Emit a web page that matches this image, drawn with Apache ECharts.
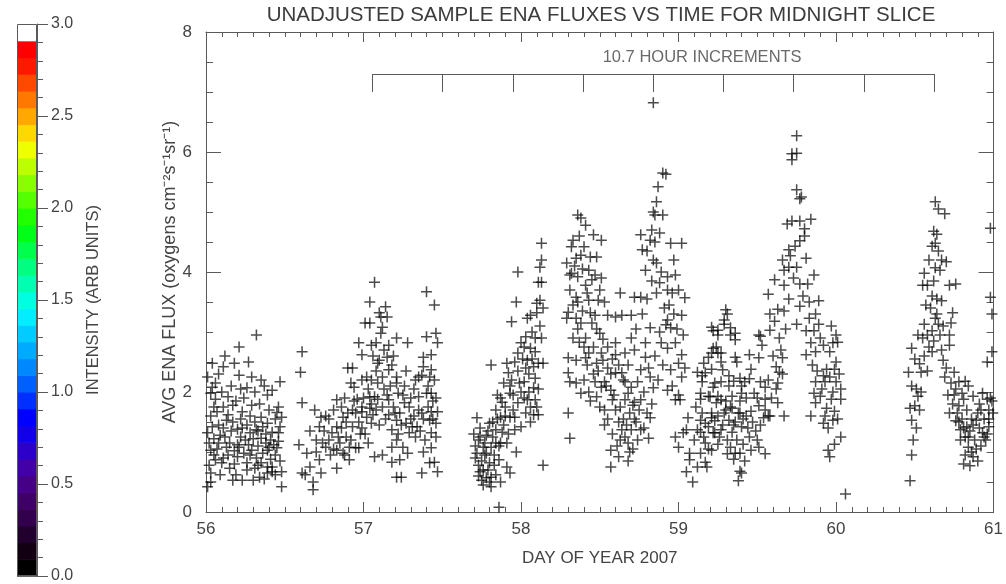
<!DOCTYPE html>
<html>
<head>
<meta charset="utf-8">
<script src="https://cdn.jsdelivr.net/npm/echarts/dist/echarts.min.js"></script>
<style>
  html, body { margin: 0; padding: 0; background: #ffffff; }
  #chart { width: 1006px; height: 584px; }
</style>
</head>
<body>
<div id="chart"></div>
<script>
// Average ENA flux samples [day of year 2007, flux], grouped by observation pass
const pass1 = [
  [56.04,2.48],[56.11,2.42],[56.18,2.48],[56.27,2.5],[56.21,2.75],[56.32,2.95],[56.21,2.28],[56.04,2.08],
  [56.03,1.98],[56.35,2.2],[56.42,2.03],[56.47,2.17],[56.26,2.07],[56.31,2.0],[56.39,1.95],[56.46,1.75],
  [56.48,1.58],[56.45,1.66],[56.11,1.75],[56.07,1.67],[56.17,1.78],[56.23,1.67],[56.35,1.58],[56.39,1.48],
  [56.13,1.53],[56.04,1.42],[56.01,1.32],[56.09,1.28],[56.15,1.15],[56.20,1.12],[56.25,1.2],[56.29,1.03],
  [56.32,0.9],[56.35,0.82],[56.39,0.75],[56.42,0.67],[56.48,0.67],[56.03,1.03],[56.06,0.87],[56.10,0.82],
  [56.03,0.65],[56.03,0.5],[56.01,0.42],[56.17,0.53],[56.23,0.53],[56.30,0.53],[56.15,0.73],[56.48,0.42],
  [56.46,1.32],[56.47,1.42],[56.42,1.33],[56.40,1.08],[56.45,1.07],[56.32,1.37],[56.28,1.32],[56.23,1.4],
  [56.35,1.23],[56.08,1.15],[56.13,1.08],[56.20,0.92],[56.26,0.82],[56.39,1.03],[56.31,0.73],[56.34,0.58],
  [56.39,0.65],[56.42,0.75],[56.02,1.15],[56.05,1.22],[56.07,1.05],[56.12,1.25],[56.14,0.95],[56.16,1.35],
  [56.18,1.02],[56.22,1.25],[56.24,0.98],[56.27,1.12],[56.30,1.22],[56.33,1.1],[56.36,0.98],[56.38,1.15],
  [56.41,0.88],[56.44,0.95],[56.47,0.85],[56.02,0.78],[56.09,0.62],[56.19,0.62],[56.26,0.7],[56.37,0.55],
  [56.01,2.25],[56.06,1.88],[56.10,2.0],[56.14,1.92],[56.19,1.85],[56.24,1.9],[56.29,1.78],[56.34,1.8],
  [56.40,1.7],[56.44,1.55],[56.16,2.1],[56.08,2.3],[56.12,2.6],
  [56.03,1.6],[56.05,1.75],[56.08,1.45],[56.11,1.4],[56.14,1.62],[56.17,1.5],[56.20,1.38],[56.22,1.55],
  [56.26,1.45],[56.28,1.6],[56.31,1.5],[56.33,1.35],[56.36,1.42],[56.38,1.3],[56.41,1.2],[56.43,1.12],
  [56.46,1.18],[56.05,0.95],[56.11,0.9],[56.18,0.8],[56.21,1.08],[56.28,0.95],[56.33,0.78],[56.44,0.62],
  [56.06,2.15],[56.22,2.05],[56.29,2.25],[56.37,2.1]
];
const pass2 = [
  [56.61,2.67],[56.60,2.33],[56.61,1.82],[56.59,1.12],[56.61,0.65],[56.63,0.62],[56.68,0.5],[56.68,0.37],
  [56.66,0.75],[56.64,0.98],[56.69,1.7],[56.73,1.58],[56.73,0.65],[56.72,0.87],[56.70,1.2],[56.74,1.15],
  [56.76,1.08],[56.78,1.2],[56.80,1.32],[56.83,1.42],[56.83,1.87],[56.88,1.9],[56.87,1.58],[56.86,1.4],
  [56.83,1.03],[56.87,0.98],[56.83,0.73],[56.91,0.87],[56.95,1.07],[56.91,1.08],[56.89,1.25],[56.93,1.42],
  [56.90,1.65],[56.93,1.7],[56.95,1.65],[56.99,1.67],[56.90,2.4],[56.93,2.4],[56.94,2.08],[56.92,2.15],
  [56.97,2.82],[56.99,2.62],[57.01,3.15],[57.04,3.15],[57.04,3.5],[57.07,3.83],[57.05,2.78],[57.08,2.82],
  [56.99,2.2],[57.02,2.25],[57.05,2.2],[57.09,2.48],[57.10,2.53],[57.11,3.25],[57.10,3.32],[57.14,3.42],
  [57.15,3.25],[57.12,3.08],[57.11,2.98],[57.16,2.78],[57.21,2.9],[57.28,2.82],[57.15,2.58],[57.16,2.37],
  [57.21,2.25],[57.21,2.15],[57.09,2.15],[57.04,1.92],[57.07,1.92],[56.99,1.75],[57.04,1.73],[57.08,1.7],
  [57.12,1.75],[57.05,1.48],[57.02,1.58],[56.99,1.4],[56.97,1.07],[57.07,0.92],[57.12,0.95],[57.16,1.87],
  [57.16,1.62],[57.21,1.53],[57.18,1.37],[57.21,1.2],[57.18,1.08],[57.25,1.08],[57.28,0.98],[57.23,0.87],
  [57.18,0.83],[57.21,0.58],[57.24,0.58],[57.23,1.65],[57.26,1.82],[57.29,1.75],[57.27,1.48],[57.31,1.42],
  [57.29,1.32],[57.34,1.42],[57.33,1.25],[57.37,0.65],[57.42,0.82],[57.38,1.0],[57.43,1.07],[57.45,0.83],
  [57.47,0.67],[57.43,1.32],[57.46,1.48],[57.42,1.53],[57.37,1.65],[57.43,1.67],[57.47,1.67],[57.35,1.92],
  [57.40,1.98],[57.43,1.98],[57.46,1.9],[57.35,2.25],[57.37,2.28],[57.42,2.25],[57.45,2.2],[57.38,2.42],
  [57.43,2.37],[57.38,2.58],[57.43,2.62],[57.40,2.92],[57.46,2.98],[57.47,2.82],[57.40,3.67],[57.45,3.45],
  [57.00,1.9],[57.03,2.05],[57.06,1.62],[57.09,1.88],[57.13,2.05],[57.14,1.55],[57.17,2.1],[57.19,1.75],
  [57.22,1.98],[57.24,1.45],[57.26,2.1],[57.30,1.9],[57.32,1.6],[57.33,2.2],[57.36,1.35],[57.39,1.2],
  [57.41,1.75],[57.44,1.85],[56.96,1.88],[56.98,1.3],[56.85,1.15],[56.78,1.55],[56.75,1.35],[56.81,1.05],
  [56.70,1.0],[56.66,1.35],[56.88,0.95],
  [56.72,1.42],[56.76,1.6],[56.79,0.95],[56.81,1.7],[56.84,1.25],[56.86,1.75],[56.89,1.5],[56.92,1.2],
  [56.94,1.85],[56.97,1.5],[57.01,1.3],[57.03,1.15],[57.05,1.8],[57.08,2.35],[57.10,1.45],[57.12,2.25],
  [57.15,1.95],[57.18,2.45],[57.20,1.65],[57.22,1.3],[57.25,1.95],[57.27,2.35],[57.30,1.55],[57.32,2.05],
  [57.35,1.7],[57.38,1.55],[57.41,2.1],[57.44,1.55],[57.46,1.25],[57.06,2.6],[57.13,2.7],[57.19,2.6]
];
const pass3 = [
  [57.72,1.57],[57.73,1.2],[57.72,0.98],[57.73,0.78],[57.74,0.67],[57.75,0.53],[57.76,0.45],[57.78,0.57],
  [57.81,0.42],[57.81,0.58],[57.80,0.82],[57.78,0.98],[57.76,1.08],[57.81,1.08],[57.78,1.28],[57.84,1.37],
  [57.80,1.48],[57.87,1.58],[57.84,1.7],[57.88,1.83],[57.85,1.95],[57.89,2.15],[57.81,2.45],[57.91,2.48],
  [57.92,2.32],[57.93,1.98],[57.95,1.95],[57.93,1.58],[57.96,1.58],[57.96,1.37],[57.88,1.33],[57.87,1.15],
  [57.91,1.15],[57.97,1.0],[57.91,0.75],[57.93,0.65],[57.86,0.87],[57.83,0.78],[57.87,0.5],[57.98,1.82],
  [58.00,2.0],[58.02,2.17],[57.98,2.65],[58.00,2.82],[58.02,2.75],[58.03,2.92],[58.04,2.53],[58.06,2.73],
  [58.09,2.67],[58.08,2.42],[58.11,2.48],[58.14,2.48],[58.09,2.23],[58.08,2.07],[58.04,1.87],[58.06,1.75],
  [58.09,1.87],[58.10,1.75],[58.08,1.62],[58.11,1.62],[58.03,1.65],[58.00,1.42],[58.06,1.5],[57.94,3.17],
  [57.97,3.5],[58.04,3.23],[58.06,3.28],[58.10,3.32],[58.12,3.53],[58.11,3.83],[58.13,3.83],[58.13,4.2],
  [58.12,4.08],[58.13,4.48],[57.98,4.0],[58.14,0.78],[58.14,3.4],[58.10,3.48],[57.86,0.08],
  [57.70,1.3],[57.71,0.9],[57.74,1.4],[57.75,0.85],[57.77,1.15],[57.79,0.7],[57.82,1.25],[57.83,0.95],
  [57.85,1.55],[57.86,1.1],[57.89,1.45],[57.90,1.75],[57.92,1.3],[57.94,2.2],[57.95,1.7],[57.98,2.35],
  [58.01,2.55],[58.02,1.9],[58.05,2.3],[58.07,3.0],[58.09,2.9],[58.12,3.1],[57.73,0.6],[57.76,0.7],
  [57.80,0.5],[57.84,0.62],
  [57.71,1.1],[57.74,1.25],[57.77,0.95],[57.79,1.35],[57.82,1.5],[57.84,1.15],[57.87,1.9],[57.90,1.6],
  [57.93,2.1],[57.96,2.5],[57.99,2.15],[58.03,2.4],[58.05,2.0],[58.07,2.55],[58.11,2.05],[58.13,2.9]
];
const pass4 = [
  [58.36,4.95],[58.38,4.9],[58.41,4.78],[58.33,4.53],[58.32,4.42],[58.40,4.42],[58.46,4.62],[58.38,4.28],
  [58.35,4.23],[58.48,4.25],[58.29,4.15],[58.32,3.98],[58.36,3.92],[58.43,4.03],[58.41,3.78],[58.45,3.87],
  [58.51,3.9],[58.31,3.7],[58.35,3.58],[58.36,3.5],[58.43,3.53],[58.49,3.53],[58.53,3.5],[58.30,3.33],
  [58.29,3.23],[58.35,3.23],[58.44,3.32],[58.47,3.28],[58.55,3.28],[58.60,3.25],[58.64,3.28],[58.70,3.28],
  [58.63,3.65],[58.72,3.58],[58.76,3.58],[58.79,4.03],[58.77,4.37],[58.76,4.62],[58.82,4.53],[58.85,4.5],
  [58.88,4.65],[58.95,4.48],[59.02,4.48],[58.85,4.95],[58.90,4.95],[58.84,4.2],[58.86,4.15],[58.89,4.0],
  [58.88,3.82],[58.93,3.92],[58.98,3.95],[58.96,3.65],[59.04,3.57],[59.02,3.28],[58.93,3.2],[58.92,3.12],
  [58.95,3.07],[58.82,3.07],[58.79,2.82],[58.89,2.82],[58.93,2.73],[58.98,2.82],[59.02,2.62],[59.00,2.48],
  [58.95,2.37],[59.02,2.25],[58.98,1.87],[59.01,1.87],[58.93,2.03],[58.84,2.07],[58.82,2.25],[58.79,2.58],
  [58.76,2.37],[58.74,2.17],[58.70,2.08],[58.68,1.98],[58.71,1.78],[58.66,1.87],[58.64,2.32],[58.66,2.65],
  [58.60,2.62],[58.51,2.65],[58.46,2.75],[58.40,2.75],[58.30,2.57],[58.35,2.53],[58.41,2.57],[58.48,2.48],
  [58.52,2.53],[58.55,2.4],[58.30,2.32],[58.31,2.17],[58.35,2.15],[58.40,2.2],[58.47,2.17],[58.53,2.17],
  [58.60,2.32],[58.57,2.03],[58.58,1.87],[58.53,1.7],[58.60,1.7],[58.62,1.5],[58.64,1.37],[58.63,1.2],
  [58.68,1.15],[58.70,1.37],[58.73,1.5],[58.76,1.37],[58.81,1.23],[58.82,1.57],[58.57,1.03],[58.62,0.92],
  [58.69,1.0],[58.57,0.75],[58.53,1.45],[58.30,1.65],[58.31,1.23],[58.38,1.98],[58.43,2.0],[58.48,1.92],
  [58.51,2.08],[58.72,1.83],[58.76,1.87],[58.66,2.17],[58.37,2.83],[58.50,2.98],[58.60,2.82],[58.72,2.7],
  [58.84,6.82],[58.90,5.65],[58.92,5.63],[58.87,5.42],[58.86,5.17],[58.84,5.0],[58.51,4.53],
  [58.45,3.15],[58.48,3.05],[58.52,2.88],[58.55,2.75],[58.58,2.55],[58.62,2.45],[58.65,2.2],[58.68,2.45],
  [58.70,2.9],[58.73,3.05],[58.77,3.3],[58.80,3.55],[58.83,3.85],[58.86,3.65],[58.94,3.45],[58.97,3.3],
  [58.99,3.05],[59.03,2.95],[58.33,2.9],[58.36,3.05],[58.39,3.35],[58.42,2.45],[58.44,1.85],[58.46,2.3],
  [58.50,1.75],[58.55,1.55],[58.58,1.3],[58.61,1.1],[58.66,1.25],[58.68,0.85],[58.71,1.05],[58.74,1.2],
  [58.78,1.4],[58.80,1.65],[58.83,1.8],[58.87,2.2],[58.90,2.45],[58.96,2.1],[59.00,1.95],[59.04,2.4],
  [58.31,3.95],[58.34,4.1],[58.37,4.6],[58.39,4.05],[58.42,3.65],[58.44,4.25],[58.47,3.95],[58.50,3.7],
  [58.33,3.45],[58.38,3.15],[58.41,2.9],[58.43,2.65],[58.49,2.35],[58.54,2.1],[58.57,2.3],[58.59,1.95],
  [58.63,1.75],[58.65,1.55],[58.67,1.45],[58.69,1.65],[58.72,1.55],[58.75,1.7],[58.78,2.0],[58.81,2.4],
  [58.85,2.6],[58.88,3.0],[58.91,3.4],[58.93,3.7],[58.97,4.2],[59.00,3.7],[58.80,4.35],[58.83,4.7]
];
const pass5 = [
  [58.98,1.25],[59.00,1.08],[59.03,1.32],[59.05,1.37],[59.06,1.57],[59.07,0.98],[59.07,0.87],[59.05,0.67],
  [59.09,0.5],[59.10,1.2],[59.12,1.37],[59.14,1.53],[59.15,1.65],[59.11,1.75],[59.14,1.98],[59.12,2.33],
  [59.15,2.17],[59.17,2.32],[59.16,2.48],[59.19,2.58],[59.22,2.73],[59.24,2.75],[59.21,3.08],[59.25,3.03],
  [59.29,3.2],[59.30,3.37],[59.33,3.07],[59.36,2.98],[59.27,2.65],[59.28,2.37],[59.23,2.15],[59.20,1.92],
  [59.24,1.82],[59.21,1.65],[59.19,1.42],[59.23,1.32],[59.17,1.15],[59.14,0.98],[59.17,0.83],[59.12,0.75],
  [59.27,1.87],[59.30,1.7],[59.33,1.75],[59.32,1.53],[59.36,1.5],[59.39,1.65],[59.36,2.58],[59.39,2.23],
  [59.42,2.17],[59.36,0.98],[59.39,0.98],[59.40,0.65],[59.31,3.3],[59.29,3.13],[59.22,3.02],[59.25,2.95],
  [59.33,2.95],[59.36,2.87],[59.21,2.65],[59.25,2.65],[59.27,2.5],[59.21,2.38],[59.37,2.5],[59.45,2.62],
  [59.51,2.95],[59.53,2.78],[59.51,2.57],[59.46,2.38],[59.45,2.22],[59.40,2.1],[59.35,2.18],[59.32,2.27],
  [59.27,2.17],[59.22,2.08],[59.15,2.27],[59.14,1.88],[59.19,1.93],[59.25,1.93],[59.34,1.93],[59.40,1.98],
  [59.48,1.98],[59.52,2.17],[59.55,2.08],[59.50,1.9],[59.55,1.88],[59.58,1.6],[59.67,1.6],[59.63,1.82],
  [59.62,2.05],[59.64,2.33],[59.62,2.42],[59.66,2.57],[59.65,2.7],[59.64,2.9],[59.52,2.93],[59.58,3.03],
  [59.61,3.18],[59.67,3.35],[59.63,3.38],[59.58,3.3],[59.57,3.63],[59.61,3.87],[59.67,3.78],[59.67,4.03],
  [59.70,4.08],[59.75,4.08],[59.66,4.2],[59.70,4.37],[59.71,4.27],[59.74,4.43],[59.77,4.52],[59.81,4.23],
  [59.77,3.8],[59.82,3.8],[59.80,4.6],[59.69,4.8],[59.72,4.85],[59.77,4.85],[59.80,4.72],[59.84,4.88],
  [59.86,3.95],[59.77,3.43],[59.75,3.13],[59.75,5.37],[59.77,5.22],[59.78,5.25],[59.72,5.87],[59.75,5.98],
  [59.75,6.27],[59.72,5.97],
  [59.89,3.52],[59.83,3.23],[59.87,3.3],[59.81,3.02],[59.86,3.02],[59.89,3.13],[59.90,2.9],[59.84,2.82],
  [59.81,2.62],[59.87,2.67],[59.92,2.78],[59.97,3.1],[60.00,2.95],[59.98,2.82],[60.01,2.83],[59.96,2.67],
  [60.00,2.5],[59.99,2.38],[59.94,2.38],[59.92,2.27],[59.87,2.17],[59.93,2.17],[60.00,2.17],[60.03,2.05],
  [59.86,1.98],[59.90,1.93],[59.97,1.88],[60.03,1.88],[59.87,1.82],[59.94,1.73],[59.99,1.68],[59.84,1.6],
  [59.92,1.48],[59.98,1.53],[59.95,1.4],[60.03,1.25],[59.99,1.13],[59.95,1.03],[59.96,0.92],[60.06,0.3],
  [59.17,1.48],[59.21,1.57],[59.25,1.6],[59.29,1.65],[59.34,1.73],[59.38,1.65],[59.43,1.6],[59.46,1.68],
  [59.51,1.77],[59.54,1.57],[59.57,1.6],[59.14,1.33],[59.22,1.32],[59.27,1.37],[59.34,1.33],[59.40,1.42],
  [59.45,1.25],[59.50,1.2],[59.55,0.97],[59.51,1.08],[59.41,1.13],[59.35,0.88],[59.42,0.85],[59.39,0.68],
  [59.38,0.52],[59.18,0.75],[59.21,1.03],[59.25,1.13],[59.31,1.2],[59.31,0.97],[59.33,1.08],[59.46,1.03],
  [59.16,1.25],[59.19,1.05],[59.23,1.52],[59.26,1.25],[59.28,1.45],[59.30,1.85],[59.32,2.1],[59.35,1.45],
  [59.37,1.2],[59.39,1.85],[59.41,1.55],[59.43,1.9],[59.44,1.4],[59.47,1.5],[59.49,1.35],[59.52,1.45],
  [59.55,1.7],[59.57,2.2],[59.59,1.9],[59.60,2.6],[59.63,2.15],[59.66,2.3],[59.68,3.05],[59.70,3.55],
  [59.73,3.9],[59.79,3.6],[59.83,3.5],[59.85,2.45],[59.88,2.35],[59.91,2.05],[59.93,1.6],[59.96,2.25],
  [59.98,2.0],[60.01,1.55],[60.02,2.3]
];
const pass6 = [
  [60.47,0.52],[60.48,0.95],[60.48,1.53],[60.47,1.73],[60.50,1.77],[60.53,1.7],[60.46,2.33],[60.48,2.1],
  [60.51,2.05],[60.52,1.93],[60.48,2.73],[60.50,2.55],[60.53,2.47],[60.54,2.33],[60.52,2.95],[60.56,3.13],
  [60.55,2.9],[60.58,2.95],[60.61,3.02],[60.65,3.13],[60.63,3.23],[60.61,2.67],[60.68,2.53],[60.72,2.78],
  [60.72,2.95],[60.73,3.15],[60.74,3.32],[60.55,3.78],[60.58,3.78],[60.61,3.6],[60.56,3.98],[60.63,4.07],
  [60.66,4.03],[60.67,4.2],[60.70,4.17],[60.67,3.52],[60.72,3.78],[60.76,3.8],[60.61,4.43],[60.63,4.48],
  [60.62,4.68],[60.64,4.63],[60.63,5.17],[60.65,5.05],[60.69,4.97],
  [60.75,2.33],[60.78,2.17],[60.82,2.18],[60.76,2.05],[60.80,1.98],[60.84,2.1],[60.72,1.65],[60.78,1.77],
  [60.81,1.88],[60.87,1.93],[60.93,1.98],[60.96,1.88],[60.76,1.52],[60.79,1.37],[60.82,1.25],[60.79,1.2],
  [60.83,1.42],[60.89,1.53],[60.92,1.7],[60.97,1.7],[60.995,1.65],[60.84,1.08],[60.87,0.92],[60.85,0.77],
  [60.81,0.8],[60.90,0.85],[60.95,1.2],[60.93,1.32],[60.97,1.42],[60.96,2.5],[60.99,2.67],[60.98,4.73],
  [60.98,3.58],[60.99,3.3],
  [60.49,1.2],[60.51,1.4],[60.54,2.0],[60.56,2.6],[60.58,2.35],[60.60,3.4],[60.64,3.55],[60.66,2.95],
  [60.68,3.1],[60.70,2.4],[60.71,1.95],[60.73,2.15],[60.74,1.8],[60.77,1.65],[60.80,1.55],[60.83,1.7],
  [60.85,1.35],[60.86,1.55],[60.88,1.2],[60.90,1.65],[60.91,1.4],[60.94,1.55],[60.96,1.3],[60.98,1.9],
  [60.86,1.0],[60.89,1.05],[60.82,0.95],[60.92,1.1],[60.59,4.2],[60.62,3.85],[60.65,4.35],
  [60.57,3.45],[60.59,2.75],[60.62,2.85],[60.64,3.3],[60.67,2.7],[60.69,2.25],[60.75,1.95],[60.78,1.5],
  [60.81,1.4],[60.84,1.25],[60.87,1.45],[60.91,1.8],[60.94,1.25],[60.97,1.55],[60.99,1.85]
];

// Axis ranges and tick steps
const dayRange = [56, 61];
const fluxRange = [0, 8];
const fluxStep = 2;
const intensityRange = [0, 3];
const intensityStep = 0.5;

// 10.7-hour increment bracket: first tick (day), step (hours), number of steps, vertical span (flux units)
const incrementStart = [57.056];
const incrementHours = [10.7];
const incrementSteps = [8];
const bracketSpan = [7.0, 7.3];
const incrementLabel = ['10.7 HOUR INCREMENTS'];
const incrementLabelAt = [59.15, 7.58];

// Intensity colour table, lowest band first
const intensityColors = [
  '#000000', '#120012', '#22002e', '#32004c', '#3e0068', '#460086', '#4300a6', '#2c00c8',
  '#1200ea', '#0000ff', '#0030ff', '#0060ff', '#0088ff', '#00aaff', '#00ccff', '#00eeff',
  '#00ffe0', '#00ffb0', '#00ff80', '#00ff4a', '#00ff18', '#22ff00', '#55ff00', '#88ff00',
  '#bbff00', '#eeff00', '#ffd800', '#ffa800', '#ff7800', '#ff4800', '#ff1800', '#ff0000',
  '#ffffff'
];

const FONT = 'Liberation Sans';
const AXIS_GRAY = '#5a5a5a';
const TEXT_GRAY = '#444444';

const incrementDays = [];
for (let i = 0; i <= incrementSteps[0]; i++) {
  incrementDays.push(incrementStart[0] + i * incrementHours[0] / 24);
}
const bracketLines = [
  { coords: [[incrementDays[0], bracketSpan[1]], [incrementDays[incrementDays.length - 1], bracketSpan[1]]] }
].concat(incrementDays.map(d => ({ coords: [[d, bracketSpan[1]], [d, bracketSpan[0]]] })));

const bandWidth = (intensityRange[1] - intensityRange[0]) / intensityColors.length;
const bands = intensityColors.map((c, i) => [0, i * bandWidth, (i + 1) * bandWidth, i]);

// plus-sign marker
const plusSymbol = 'path://M4.3,0H5.7V4.3H10V5.7H5.7V10H4.3V5.7H0V4.3H4.3Z';

const chart = echarts.init(document.getElementById('chart'), null, { renderer: 'canvas' });

const mainX = (pos, labels) => ({
  type: 'value', gridIndex: 0, position: pos,
  min: dayRange[0], max: dayRange[1], interval: 1,
  axisLine: { show: true, onZero: false, lineStyle: { color: AXIS_GRAY, width: 1 } },
  axisTick: { show: true, inside: true, length: 10, lineStyle: { color: AXIS_GRAY } },
  minorTick: { show: true, splitNumber: 10, length: 5, lineStyle: { color: AXIS_GRAY } },
  splitLine: { show: false }, minorSplitLine: { show: false },
  axisLabel: { show: labels, margin: 9, fontFamily: FONT, fontSize: 17, color: TEXT_GRAY },
  name: labels ? 'DAY OF YEAR 2007' : '', nameLocation: 'middle', nameGap: 38,
  nameMoveOverlap: false,
  nameTextStyle: { fontFamily: FONT, fontSize: 17, color: TEXT_GRAY }
});
const mainY = (pos, labels) => ({
  type: 'value', gridIndex: 0, position: pos,
  min: fluxRange[0], max: fluxRange[1], interval: fluxStep,
  axisLine: { show: true, onZero: false, lineStyle: { color: AXIS_GRAY, width: 1 } },
  axisTick: { show: true, inside: true, length: 15, lineStyle: { color: AXIS_GRAY } },
  minorTick: { show: true, splitNumber: 4, length: 7, lineStyle: { color: AXIS_GRAY } },
  splitLine: { show: false }, minorSplitLine: { show: false },
  axisLabel: { show: labels, margin: 14, fontFamily: FONT, fontSize: 17, color: TEXT_GRAY },
  name: labels ? 'AVG ENA FLUX (oxygens cm\u207B\u00B2s\u207B\u00B9sr\u207B\u00B9)' : '',
  nameLocation: 'middle', nameGap: 27, nameRotate: 90, nameMoveOverlap: false,
  nameTextStyle: { fontFamily: FONT, fontSize: 18, color: TEXT_GRAY }
});

const scatterStyle = {
  type: 'scatter', xAxisIndex: 0, yAxisIndex: 0,
  symbol: plusSymbol, symbolSize: 11, symbolKeepAspect: true,
  itemStyle: { color: 'rgba(0,0,0,0.88)' },
  silent: true, z: 3
};

chart.setOption({
  animation: false,
  backgroundColor: '#ffffff',
  grid: [
    { left: 206, right: 9, top: 32, bottom: 72, show: false },
    { left: 17, width: 20, top: 24, height: 557, show: false }
  ],
  xAxis: [
    mainX('bottom', true),
    mainX('top', false),
    { type: 'value', gridIndex: 1, min: 0, max: 1, show: false }
  ],
  yAxis: [
    mainY('left', true),
    mainY('right', false),
    {
      type: 'value', gridIndex: 1, position: 'right', z: 5,
      min: intensityRange[0], max: intensityRange[1], interval: intensityStep,
      axisLine: { show: true, onZero: false, lineStyle: { color: AXIS_GRAY, width: 1 } },
      axisTick: { show: true, inside: false, length: 11, lineStyle: { color: AXIS_GRAY } },
      minorTick: { show: true, splitNumber: 5, length: 6, lineStyle: { color: AXIS_GRAY } },
      splitLine: { show: false }, minorSplitLine: { show: false },
      axisLabel: { margin: 14, fontFamily: FONT, fontSize: 16, color: TEXT_GRAY,
                   formatter: v => v.toFixed(1) },
      name: 'INTENSITY (ARB UNITS)', nameLocation: 'middle', nameGap: 48, nameRotate: 90,
      nameTextStyle: { fontFamily: FONT, fontSize: 16.5, color: TEXT_GRAY }
    }
  ],
  graphic: [{
    type: 'text', x: 601, y: 15,
    style: {
      text: 'UNADJUSTED SAMPLE ENA FLUXES VS TIME FOR MIDNIGHT SLICE',
      fontFamily: FONT, fontSize: 20.5, fill: '#3c3c3c',
      textAlign: 'center', textVerticalAlign: 'middle'
    }
  }],
  series: [
    Object.assign({ data: pass1 }, scatterStyle),
    Object.assign({ data: pass2 }, scatterStyle),
    Object.assign({ data: pass3 }, scatterStyle),
    Object.assign({ data: pass4 }, scatterStyle),
    Object.assign({ data: pass5 }, scatterStyle),
    Object.assign({ data: pass6 }, scatterStyle),
    {
      type: 'lines', coordinateSystem: 'cartesian2d', xAxisIndex: 0, yAxisIndex: 0,
      polyline: false, silent: true, z: 4,
      lineStyle: { color: AXIS_GRAY, width: 1, opacity: 1 },
      data: bracketLines
    },
    {
      type: 'scatter', xAxisIndex: 0, yAxisIndex: 0, silent: true, z: 4,
      symbolSize: 1, itemStyle: { color: 'rgba(0,0,0,0)' },
      label: {
        show: true, position: 'inside', formatter: incrementLabel[0],
        fontFamily: FONT, fontSize: 16.5, color: TEXT_GRAY
      },
      data: [incrementLabelAt]
    },
    {
      type: 'custom', xAxisIndex: 2, yAxisIndex: 2, silent: true, z: 2,
      data: bands,
      encode: { x: 0, y: [1, 2] },
      renderItem: (params, api) => {
        const top = api.coord([0, api.value(2)]);
        const bottom = api.coord([1, api.value(1)]);
        return {
          type: 'rect',
          shape: { x: top[0], y: top[1], width: bottom[0] - top[0], height: bottom[1] - top[1] + 0.6 },
          style: { fill: intensityColors[api.value(3)] }
        };
      }
    },
    {
      type: 'custom', xAxisIndex: 2, yAxisIndex: 2, silent: true, z: 3,
      data: [[0, intensityRange[0], intensityRange[1]]],
      encode: { x: 0, y: [1, 2] },
      renderItem: (params, api) => {
        const a = api.coord([0, api.value(2)]);
        const b = api.coord([1, api.value(1)]);
        return {
          type: 'rect',
          shape: { x: a[0] + 0.5, y: a[1] + 0.5, width: b[0] - a[0] - 1, height: b[1] - a[1] - 1 },
          style: { fill: 'none', stroke: AXIS_GRAY, lineWidth: 1 }
        };
      }
    }
  ]
});
</script>
</body>
</html>
